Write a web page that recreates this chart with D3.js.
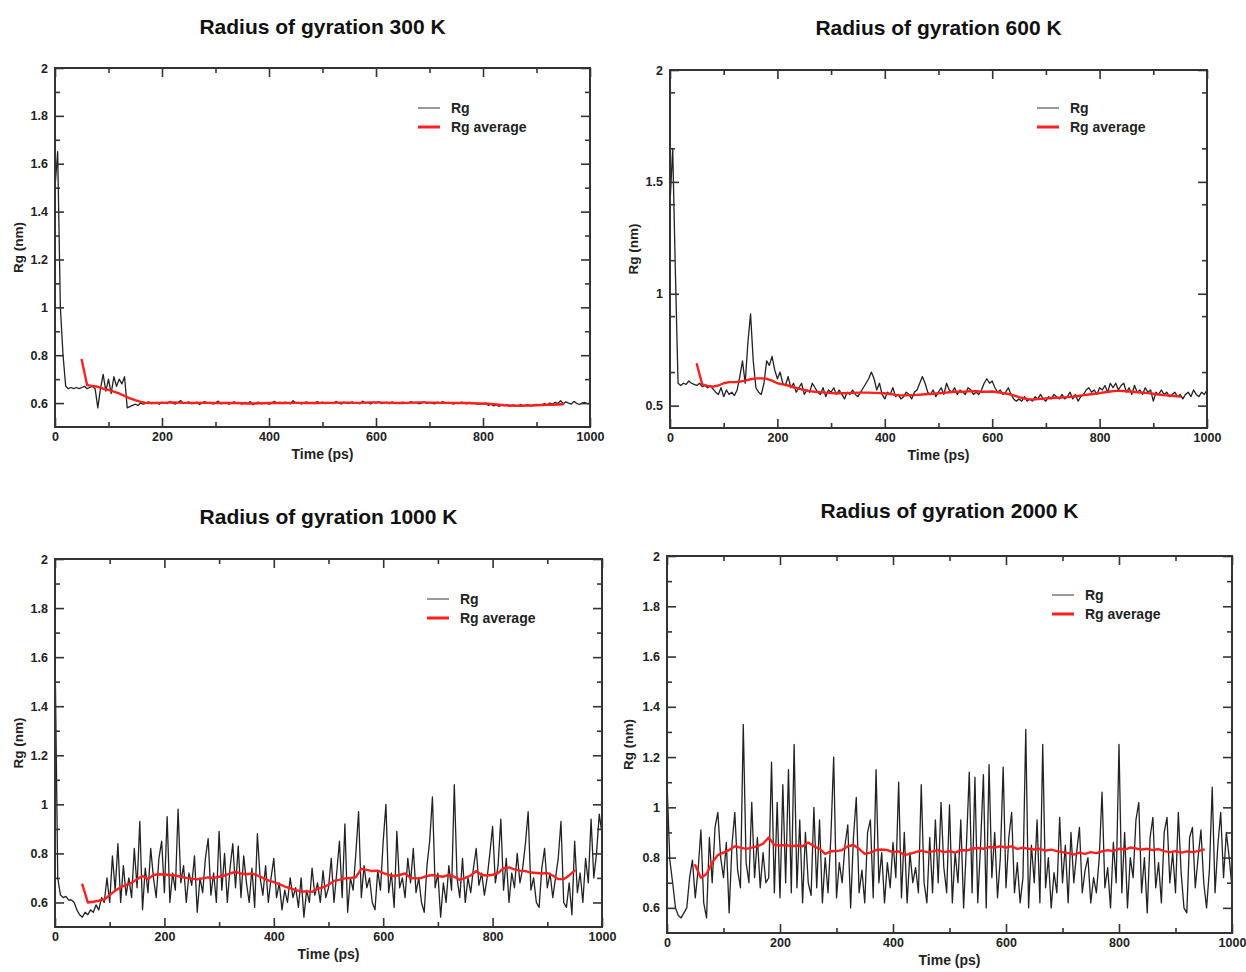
<!DOCTYPE html>
<html>
<head>
<meta charset="utf-8">
<script src="https://cdn.jsdelivr.net/npm/d3@7"></script>
<style>
  html, body { margin: 0; padding: 0; background: #fff; }
  svg { display: block; font-family: "Liberation Sans", Arial, Helvetica, sans-serif; }
</style>
</head>
<body>
<svg id="chart" width="1246" height="972"></svg>
<script>
// ---------------- DATA ----------------
const titles = ["Radius of gyration 300 K", "Radius of gyration 600 K", "Radius of gyration 1000 K", "Radius of gyration 2000 K"];
const xLabel = "Time (ps)";
const yLabel = "Rg (nm)";
const legendLabels = ["Rg", "Rg average"];
const xTicks = [0, 200, 400, 600, 800, 1000];
const yTicksA = [0.6, 0.8, 1, 1.2, 1.4, 1.6, 1.8, 2];
const yTicksB = [0.5, 1, 1.5, 2];

// Rg sampled every 5 ps, t = 0 .. 1000 (rows of 10 = 50 ps)
const rg300 = [
  1.50,1.65,1.00,0.80,0.67,0.66,0.665,0.66,0.665,0.66,
  0.665,0.67,0.66,0.665,0.67,0.66,0.58,0.66,0.72,0.65,
  0.70,0.64,0.71,0.67,0.70,0.68,0.71,0.58,0.585,0.59,
  0.595,0.59,0.60,0.595,0.60,0.605,0.598,0.60,0.603,0.595,
  0.604,0.60,0.598,0.607,0.60,0.596,0.603,0.61,0.598,0.60,
  0.605,0.597,0.60,0.604,0.594,0.60,0.606,0.599,0.603,0.596,
  0.60,0.608,0.597,0.60,0.603,0.595,0.601,0.605,0.598,0.60,
  0.596,0.603,0.598,0.606,0.593,0.60,0.604,0.597,0.60,0.602,
  0.595,0.60,0.607,0.599,0.603,0.598,0.604,0.60,0.597,0.61,
  0.60,0.603,0.596,0.60,0.605,0.599,0.602,0.598,0.606,0.60,
  0.604,0.597,0.603,0.60,0.598,0.607,0.601,0.596,0.604,0.60,
  0.598,0.605,0.60,0.602,0.597,0.608,0.60,0.603,0.596,0.604,
  0.60,0.606,0.598,0.601,0.603,0.597,0.605,0.60,0.602,0.599,
  0.604,0.60,0.598,0.606,0.601,0.603,0.597,0.60,0.605,0.599,
  0.602,0.60,0.597,0.604,0.60,0.606,0.598,0.603,0.60,0.596,
  0.602,0.598,0.604,0.60,0.597,0.603,0.599,0.60,0.595,0.598,
  0.596,0.60,0.59,0.595,0.588,0.593,0.586,0.592,0.589,0.594,
  0.587,0.592,0.59,0.586,0.594,0.588,0.591,0.593,0.587,0.592,
  0.595,0.59,0.594,0.598,0.592,0.60,0.596,0.603,0.598,0.61,
  0.597,0.605,0.60,0.596,0.607,0.599,0.594,0.60,0.603,0.597,
  0.60
];
const rg600 = [
  1.40,1.65,1.10,0.60,0.59,0.60,0.595,0.61,0.60,0.595,
  0.59,0.60,0.585,0.59,0.58,0.59,0.575,0.56,0.55,0.58,
  0.54,0.57,0.55,0.56,0.545,0.57,0.63,0.70,0.60,0.78,
  0.91,0.70,0.58,0.56,0.55,0.60,0.70,0.68,0.72,0.66,
  0.62,0.65,0.60,0.59,0.63,0.58,0.60,0.56,0.58,0.60,
  0.55,0.57,0.56,0.60,0.58,0.56,0.55,0.58,0.54,0.57,
  0.56,0.58,0.55,0.57,0.55,0.53,0.56,0.55,0.57,0.55,
  0.54,0.56,0.58,0.60,0.62,0.65,0.62,0.57,0.60,0.55,
  0.53,0.56,0.55,0.58,0.54,0.55,0.53,0.54,0.56,0.55,
  0.53,0.56,0.57,0.60,0.63,0.60,0.56,0.55,0.57,0.54,
  0.56,0.58,0.55,0.60,0.57,0.56,0.58,0.55,0.57,0.56,
  0.55,0.58,0.57,0.55,0.56,0.55,0.57,0.60,0.62,0.60,
  0.61,0.58,0.56,0.57,0.55,0.56,0.58,0.55,0.53,0.52,
  0.53,0.52,0.54,0.52,0.53,0.52,0.54,0.53,0.55,0.53,
  0.52,0.54,0.53,0.55,0.54,0.53,0.55,0.53,0.54,0.56,
  0.53,0.55,0.52,0.54,0.55,0.57,0.58,0.56,0.57,0.55,
  0.58,0.57,0.59,0.56,0.60,0.58,0.60,0.57,0.59,0.60,
  0.56,0.58,0.55,0.59,0.56,0.57,0.55,0.58,0.56,0.57,
  0.52,0.56,0.55,0.57,0.55,0.56,0.54,0.55,0.56,0.54,
  0.55,0.53,0.55,0.56,0.54,0.57,0.55,0.54,0.56,0.55,
  0.57
];
const rg1000 = [
  1.64,0.70,0.63,0.62,0.625,0.61,0.61,0.60,0.57,0.55,
  0.54,0.56,0.55,0.57,0.56,0.59,0.57,0.62,0.60,0.70,
  0.60,0.79,0.65,0.84,0.60,0.75,0.63,0.70,0.62,0.82,
  0.66,0.93,0.57,0.74,0.64,0.82,0.70,0.62,0.78,0.85,
  0.64,0.95,0.60,0.72,0.65,0.98,0.68,0.75,0.60,0.72,
  0.67,0.79,0.56,0.70,0.64,0.78,0.86,0.63,0.72,0.60,
  0.89,0.65,0.80,0.60,0.74,0.84,0.66,0.83,0.62,0.79,
  0.68,0.60,0.74,0.58,0.88,0.70,0.63,0.75,0.60,0.70,
  0.78,0.62,0.68,0.57,0.65,0.60,0.70,0.62,0.66,0.58,
  0.70,0.54,0.65,0.60,0.74,0.63,0.68,0.60,0.73,0.62,
  0.66,0.78,0.60,0.72,0.85,0.62,0.92,0.56,0.70,0.65,
  0.80,0.97,0.62,0.75,0.66,0.70,0.60,0.57,0.73,0.65,
  0.85,1.00,0.64,0.72,0.58,0.89,0.66,0.70,0.62,0.78,
  0.68,0.82,0.64,0.70,0.60,0.56,0.75,0.85,1.03,0.66,
  0.72,0.54,0.68,0.60,0.75,0.65,1.08,0.70,0.62,0.78,
  0.60,0.70,0.64,0.74,0.82,0.67,0.72,0.63,0.70,0.80,
  0.91,0.68,0.75,0.94,0.65,0.78,0.60,0.72,0.66,0.80,
  0.68,0.74,0.84,0.97,0.65,0.70,0.60,0.58,0.74,0.82,
  0.66,0.72,0.62,0.70,0.78,0.93,0.60,0.58,0.68,0.55,
  0.85,0.64,0.72,0.60,0.78,0.68,0.94,0.70,0.80,0.96,
  0.88
];
const rg2000 = [
  1.10,0.79,0.70,0.60,0.57,0.56,0.58,0.60,0.72,0.79,
  0.64,0.75,0.91,0.62,0.56,0.88,0.70,0.92,0.98,0.80,
  0.72,0.86,0.58,0.85,0.98,0.75,0.68,1.33,0.78,0.70,
  1.02,0.72,0.88,0.68,0.82,0.70,0.72,1.18,0.66,1.02,
  0.64,1.09,0.70,1.15,0.66,1.25,0.68,0.95,0.62,0.90,
  0.70,0.65,1.00,0.68,0.95,0.62,0.80,0.66,0.88,1.20,
  0.64,0.78,0.70,0.85,0.93,0.60,0.88,1.04,0.66,0.75,
  0.62,0.90,0.95,0.64,1.15,0.70,0.82,0.62,0.78,0.68,
  0.86,0.72,1.10,0.64,0.90,0.62,0.82,0.70,0.76,0.66,
  1.09,0.70,0.62,0.88,0.66,0.95,0.70,1.02,0.76,0.66,
  1.01,0.62,0.82,0.70,0.95,0.60,0.85,1.14,0.66,1.12,
  0.62,0.85,1.13,0.60,1.17,0.72,0.90,0.64,0.80,1.16,
  0.68,0.88,0.98,0.66,0.78,0.62,0.72,1.31,0.60,0.85,
  0.70,0.95,0.62,1.25,0.68,0.80,0.60,0.74,0.66,0.96,
  0.70,0.85,0.62,0.90,0.70,0.82,0.92,0.66,0.75,0.80,
  0.62,0.72,0.66,0.80,1.06,0.68,0.76,0.60,0.86,0.70,
  1.25,0.66,0.90,0.60,0.80,0.72,0.95,1.02,0.66,0.80,
  0.58,0.88,0.96,0.68,0.78,0.62,0.90,0.96,0.70,0.82,
  0.66,0.98,0.74,0.60,0.58,0.88,0.92,0.68,0.80,0.91,
  0.70,0.60,0.75,1.08,0.66,0.85,0.98,0.72,0.90,0.80,
  0.68
];

// Running average sampled every 10 ps, t = 50 .. 950 (rows of 10 = 100 ps)
const avg300 = [
  0.78,0.675,0.672,0.668,0.66,0.655,0.648,0.64,0.63,0.62,
  0.612,0.605,0.601,0.60,0.60,0.601,0.602,0.603,0.602,0.601,
  0.601,0.60,0.601,0.602,0.601,0.60,0.60,0.601,0.60,0.60,
  0.599,0.598,0.598,0.599,0.599,0.60,0.60,0.60,0.60,0.601,
  0.601,0.601,0.60,0.60,0.60,0.601,0.601,0.601,0.602,0.602,
  0.602,0.601,0.601,0.602,0.603,0.603,0.602,0.602,0.601,0.60,
  0.60,0.601,0.602,0.603,0.603,0.602,0.602,0.601,0.601,0.601,
  0.60,0.60,0.60,0.599,0.598,0.598,0.597,0.595,0.593,0.591,
  0.59,0.589,0.589,0.59,0.59,0.591,0.592,0.593,0.593,0.594,
  0.595
];
const avg600 = [
  0.685,0.595,0.588,0.585,0.59,0.60,0.605,0.605,0.607,0.612,
  0.618,0.622,0.622,0.62,0.612,0.60,0.595,0.59,0.582,0.576,
  0.57,0.565,0.562,0.56,0.558,0.556,0.555,0.555,0.556,0.557,
  0.558,0.558,0.558,0.557,0.556,0.555,0.552,0.548,0.546,0.546,
  0.547,0.548,0.55,0.552,0.553,0.555,0.557,0.56,0.562,0.562,
  0.563,0.565,0.564,0.562,0.562,0.563,0.56,0.556,0.552,0.546,
  0.538,0.532,0.528,0.528,0.53,0.532,0.534,0.535,0.536,0.538,
  0.54,0.543,0.547,0.55,0.553,0.556,0.56,0.563,0.566,0.566,
  0.564,0.562,0.56,0.558,0.556,0.553,0.55,0.547,0.545,0.543,
  0.54
];
const avg1000 = [
  0.673,0.60,0.603,0.607,0.612,0.63,0.648,0.662,0.672,0.68,
  0.695,0.708,0.695,0.712,0.715,0.714,0.712,0.71,0.705,0.70,
  0.697,0.694,0.698,0.702,0.70,0.705,0.71,0.718,0.725,0.718,
  0.715,0.718,0.71,0.70,0.69,0.683,0.675,0.665,0.658,0.65,
  0.645,0.645,0.643,0.655,0.662,0.672,0.688,0.692,0.698,0.70,
  0.703,0.737,0.733,0.728,0.73,0.72,0.712,0.708,0.712,0.718,
  0.70,0.698,0.70,0.708,0.712,0.708,0.705,0.712,0.705,0.692,
  0.70,0.71,0.728,0.712,0.71,0.713,0.72,0.74,0.743,0.735,
  0.73,0.728,0.722,0.72,0.718,0.72,0.71,0.695,0.695,0.71,
  0.73
];
const avg2000 = [
  0.77,0.72,0.735,0.78,0.81,0.82,0.83,0.845,0.84,0.835,
  0.84,0.845,0.855,0.88,0.85,0.848,0.85,0.845,0.848,0.845,
  0.86,0.845,0.835,0.815,0.825,0.826,0.83,0.845,0.85,0.835,
  0.815,0.82,0.83,0.832,0.83,0.822,0.825,0.81,0.815,0.822,
  0.828,0.822,0.825,0.83,0.822,0.826,0.82,0.83,0.828,0.835,
  0.838,0.835,0.842,0.84,0.845,0.84,0.845,0.835,0.84,0.835,
  0.832,0.835,0.828,0.832,0.826,0.822,0.818,0.812,0.82,0.815,
  0.822,0.818,0.825,0.83,0.826,0.835,0.832,0.84,0.836,0.832,
  0.835,0.83,0.834,0.826,0.822,0.826,0.82,0.825,0.822,0.826,
  0.832
];

const rgStep = 5, avgStart = 50, avgStep = 10;

// ---------------- LAYOUT ----------------
const panels = [
  { title: titles[0], rg: rg300,  avg: avg300,  yDomain: [0.5, 2], yTicks: yTicksA, yMinor: 0.1,
    left: 55, top: 68, right: 590, bottom: 427, titleY: 34, ylabX: 18, leg: { x: 418, y: 108 } },
  { title: titles[1], rg: rg600,  avg: avg600,  yDomain: [0.4, 2], yTicks: yTicksB, yMinor: 0.25,
    left: 670, top: 70, right: 1207, bottom: 428, titleY: 35, ylabX: 633, leg: { x: 1037, y: 108 } },
  { title: titles[2], rg: rg1000, avg: avg1000, yDomain: [0.5, 2], yTicks: yTicksA, yMinor: 0.1,
    left: 55, top: 559, right: 602, bottom: 927, titleY: 524, ylabX: 18, leg: { x: 427, y: 599 } },
  { title: titles[3], rg: rg2000, avg: avg2000, yDomain: [0.5, 2], yTicks: yTicksA, yMinor: 0.1,
    left: 667, top: 556, right: 1232, bottom: 933, titleY: 518, ylabX: 628, leg: { x: 1052, y: 595 } }
];

const svg = d3.select("#chart");
const fmt = d3.format("~g");

panels.forEach((p, pi) => {
  const x = d3.scaleLinear().domain([0, 1000]).range([p.left, p.right]);
  const y = d3.scaleLinear().domain(p.yDomain).range([p.bottom, p.top]);
  const g = svg.append("g");
  const w = p.right - p.left, h = p.bottom - p.top;

  const cid = "clip" + pi;
  svg.append("clipPath").attr("id", cid).append("rect")
    .attr("x", p.left).attr("y", p.top).attr("width", w).attr("height", h);

  const line = d3.line().x(d => x(d[0])).y(d => y(d[1]));
  const rgPts = p.rg.map((v, i) => [i * rgStep, v]);
  const avgPts = p.avg.map((v, i) => [avgStart + i * avgStep, v]);

  g.append("path").datum(rgPts).attr("clip-path", `url(#${cid})`)
    .attr("d", line).attr("fill", "none").attr("stroke", "#222")
    .attr("stroke-width", 1.3).attr("stroke-linejoin", "round");
  g.append("path").datum(avgPts).attr("clip-path", `url(#${cid})`)
    .attr("d", line).attr("fill", "none").attr("stroke", "#ff1f1f")
    .attr("stroke-width", 2.4).attr("stroke-linejoin", "round").attr("stroke-linecap", "round");

  const xMinor = d3.range(100, 1000, 100).filter(t => t % 200 !== 0);
  const yMinorVals = d3.range(p.yDomain[0], p.yDomain[1] + 1e-9, p.yMinor)
    .map(v => +v.toFixed(3))
    .filter(v => !p.yTicks.some(t => Math.abs(t - v) < 1e-6) && v > p.yDomain[0] + 1e-6 && v < p.yDomain[1] - 1e-6);

  const majL = 9, minL = 5;
  const axBottom = d3.axisBottom(x).tickValues(xTicks).tickSizeInner(-majL).tickSizeOuter(0).tickPadding(5).tickFormat(fmt);
  const axTop = d3.axisTop(x).tickValues(xTicks).tickSizeInner(-majL).tickSizeOuter(0).tickFormat("");
  const axLeft = d3.axisLeft(y).tickValues(p.yTicks).tickSizeInner(-majL).tickSizeOuter(0).tickPadding(7).tickFormat(fmt);
  const axRight = d3.axisRight(y).tickValues(p.yTicks).tickSizeInner(-majL).tickSizeOuter(0).tickFormat("");
  const mnBottom = d3.axisBottom(x).tickValues(xMinor).tickSizeInner(-minL).tickSizeOuter(0).tickFormat("");
  const mnTop = d3.axisTop(x).tickValues(xMinor).tickSizeInner(-minL).tickSizeOuter(0).tickFormat("");
  const mnLeft = d3.axisLeft(y).tickValues(yMinorVals).tickSizeInner(-minL).tickSizeOuter(0).tickFormat("");
  const mnRight = d3.axisRight(y).tickValues(yMinorVals).tickSizeInner(-minL).tickSizeOuter(0).tickFormat("");

  const addAxis = (ax, tx, ty) => {
    const a = g.append("g").attr("transform", `translate(${tx},${ty})`).call(ax);
    a.select(".domain").remove();
    a.selectAll("line").attr("stroke", "#333").attr("stroke-width", 1.6);
    a.selectAll("text").attr("fill", "#222").style("font-size", "12.5px")
      .style("font-family", '"Liberation Sans", Arial, sans-serif').style("font-weight", "bold");
    return a;
  };
  addAxis(axBottom, 0, p.bottom);
  addAxis(axTop, 0, p.top);
  addAxis(axLeft, p.left, 0);
  addAxis(axRight, p.right, 0);
  addAxis(mnBottom, 0, p.bottom);
  addAxis(mnTop, 0, p.top);
  addAxis(mnLeft, p.left, 0);
  addAxis(mnRight, p.right, 0);

  g.append("rect").attr("x", p.left).attr("y", p.top).attr("width", w).attr("height", h)
    .attr("fill", "none").attr("stroke", "#333").attr("stroke-width", 2);

  g.append("text").attr("x", (p.left + p.right) / 2).attr("y", p.titleY)
    .attr("text-anchor", "middle").style("font-size", "21px").style("font-weight", "bold")
    .attr("fill", "#111").text(p.title);

  g.append("text").attr("x", (p.left + p.right) / 2).attr("y", p.bottom + 32)
    .attr("text-anchor", "middle").style("font-size", "14px").style("font-weight", "bold")
    .attr("fill", "#222").text(xLabel);
  g.append("text").attr("transform", `translate(${p.ylabX},${(p.top + p.bottom) / 2}) rotate(-90)`)
    .attr("text-anchor", "middle").attr("dy", "0.35em").style("font-size", "13.5px").style("font-weight", "bold")
    .attr("fill", "#222").text(yLabel);

  const lg = g.append("g");
  [["#555", 1.2], ["#ff1f1f", 3]].forEach((s, i) => {
    const ly = p.leg.y + i * 19;
    lg.append("line").attr("x1", p.leg.x).attr("x2", p.leg.x + 22).attr("y1", ly).attr("y2", ly)
      .attr("stroke", s[0]).attr("stroke-width", s[1]);
    lg.append("text").attr("x", p.leg.x + 33).attr("y", ly).attr("dy", "0.35em")
      .style("font-size", "14px").style("font-weight", "bold").attr("fill", "#222").text(legendLabels[i]);
  });
});
</script>
</body>
</html>
